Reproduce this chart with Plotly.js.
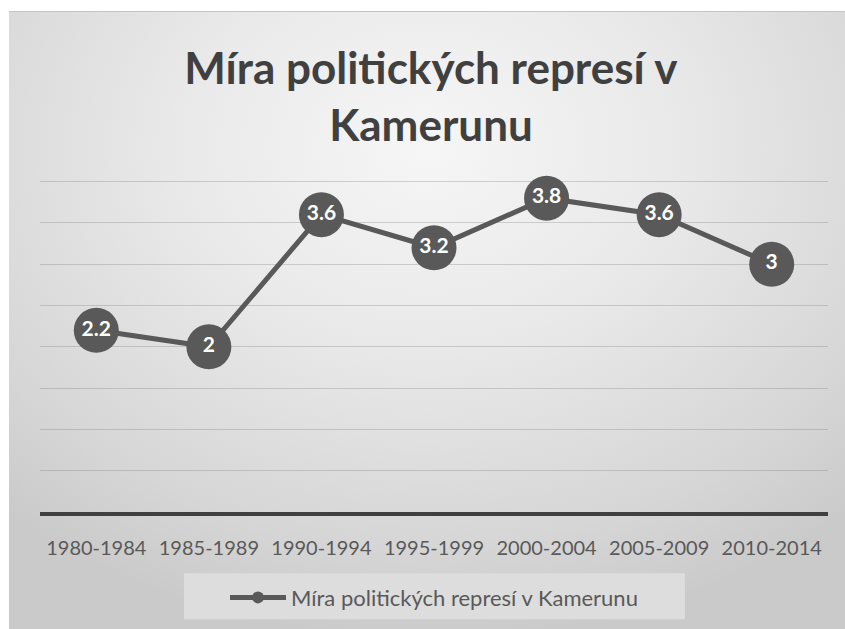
<!DOCTYPE html>
<html>
<head>
<meta charset="utf-8">
<script src="https://cdn.plot.ly/plotly-3.0.1.min.js"></script>
<style>
  html, body { margin: 0; padding: 0; background: #ffffff; }
  #bg {
    position: absolute; left: 9px; top: 11px; width: 836px; height: 618px;
    border-top: 1px solid #c4c4c4;
    background: radial-gradient(ellipse 75% 80% at 50% 22%, #f6f6f6 0%, #e9e9e9 40%, #d6d6d6 80%, #cacaca 100%);
  }
  #chart { position: absolute; left: 0; top: 0; width: 845px; height: 629px; }
</style>
</head>
<body>
<div id="bg"></div>
<div id="chart"></div>
<script>
const categories = ["1980-1984", "1985-1989", "1990-1994", "1995-1999", "2000-2004", "2005-2009", "2010-2014"];
const values = [2.2, 2, 3.6, 3.2, 3.8, 3.6, 3];
const seriesName = "Míra politických represí v Kamerunu";
const chartTitle = "Míra politických represí v<br>Kamerunu";

const dark = "#595959";

const trace = {
  type: "scatter",
  mode: "lines+markers+text",
  x: categories,
  y: values,
  name: seriesName,
  text: values.map(v => String(v)),
  textposition: "middle center",
  textfont: { family: "Lato, 'Open Sans', sans-serif", size: 21, color: "#ffffff", weight: "bold" },
  line: { color: dark, width: 5 },
  marker: { color: dark, size: 45 },
  cliponaxis: false,
  hoverinfo: "x+y"
};

const layout = {
  width: 845,
  height: 629,
  paper_bgcolor: "rgba(0,0,0,0)",
  plot_bgcolor: "rgba(0,0,0,0)",
  margin: { l: 40, r: 17, t: 180, b: 116 },
  title: {
    text: chartTitle,
    font: { family: "Lato, 'Open Sans', sans-serif", size: 44, color: "#404040", weight: "bold" },
    x: 0.51, xanchor: "center",
    yref: "container", y: 1 - 84 / 629, yanchor: "top"
  },
  xaxis: {
    type: "category",
    range: [-0.5, 6.5],
    showgrid: false,
    showline: true,
    linecolor: "#404040",
    linewidth: 4,
    ticks: "",
    ticklabelstandoff: 15,
    tickfont: { family: "Lato, 'Open Sans', sans-serif", size: 20, color: "#595959" },
    fixedrange: true
  },
  yaxis: {
    range: [0, 4.02],
    dtick: 0.5,
    showgrid: true,
    gridcolor: "rgba(120,120,120,0.3)",
    gridwidth: 1,
    zeroline: false,
    showticklabels: false,
    ticks: "",
    fixedrange: true
  },
  showlegend: true,
  legend: {
    orientation: "h",
    x: 0.5, xanchor: "center",
    y: -0.254, yanchor: "middle",
    bgcolor: "rgba(0,0,0,0)",
    itemwidth: 56,
    itemsizing: "constant",
    font: { family: "Lato, 'Open Sans', sans-serif", size: 22, color: "#595959" }
  },
  shapes: [{
    type: "rect", layer: "below",
    xref: "paper", yref: "paper",
    x0: 0.1827, x1: 0.8185, y0: -0.3233, y1: -0.1843,
    fillcolor: "#dddddd", line: { width: 0 }
  }]
};

Plotly.newPlot("chart", [trace], layout, { displayModeBar: false, staticPlot: true });
</script>
</body>
</html>
